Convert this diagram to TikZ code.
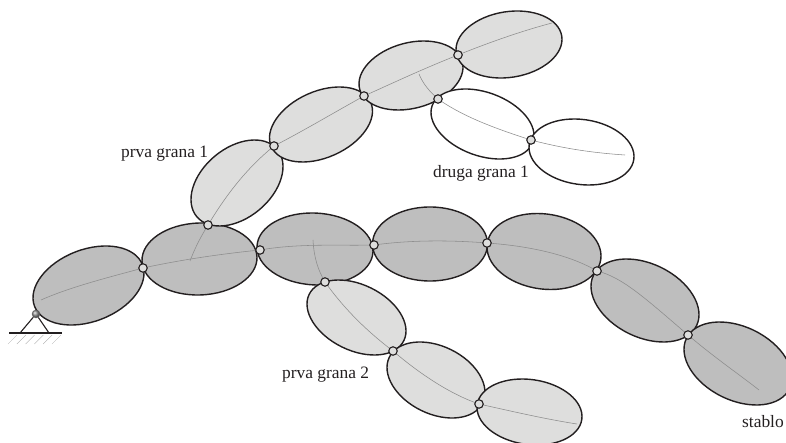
\documentclass[tikz,border=0pt]{standalone}
\usepackage{fontspec}
\setmainfont{Liberation Serif}
\definecolor{trunk}{HTML}{BEBEBE}
\definecolor{branch}{HTML}{DEDEDD}
\definecolor{axisc}{HTML}{8C8C8C}
\definecolor{inkc}{HTML}{231F20}
\newcommand\lnk[6]{%
  \pgfmathsetmacro\dd{(#3*#3-#4*#4)/cos(2*#5)}%
  \pgfmathsetmacro\ss{#3*#3+#4*#4}%
  \pgfmathsetmacro\aa{sqrt((\ss+\dd)/2)}%
  \pgfmathsetmacro\bb{sqrt((\ss-\dd)/2)}%
  \draw[linkline,fill=#6] (#1,#2) ellipse [x radius=\aa pt,y radius=\bb pt,rotate=#5];}
\tikzset{
  linkline/.style={draw=inkc,line width=1.4pt},
  axisline/.style={draw=axisc,line width=0.55pt},
  joint/.style={circle,draw=inkc,line width=1.1pt,fill=branch,minimum size=8.5pt,inner sep=0pt},
  lab/.style={text=inkc,font=\fontsize{17.4}{20}\selectfont,inner sep=0pt},
  hatchline/.style={draw=gray!70,line width=0.35pt}
}
\begin{document}
\begin{tikzpicture}[x=1pt,y=-1pt]
\useasboundingbox (0,0) rectangle (786,443);
\clip (0,0) rectangle (786,443);
% trunk
\lnk{88.5}{285.5}{55.5}{39.5}{21}{trunk}
\lnk{199.5}{259}{57.5}{36}{2}{trunk}
\lnk{315}{249}{58}{36}{-3}{trunk}
\lnk{430}{244}{57.5}{37}{0}{trunk}
\lnk{544}{251.5}{57}{38}{-8}{trunk}
\lnk{645}{300.5}{54}{41.5}{-26}{trunk}
\lnk{738}{363.5}{54}{41.5}{-26}{trunk}
% first branch 1
\lnk{237}{183}{46}{43}{40}{branch}
\lnk{321}{124.5}{51.5}{37.5}{24}{branch}
\lnk{411}{75.5}{52}{34.5}{15}{branch}
\lnk{509}{44.5}{53}{33.5}{9}{branch}
% second branch 1
\lnk{482.5}{124}{51.5}{35}{-20}{white}
\lnk{581.5}{152}{52.5}{33}{-8}{white}
% first branch 2
\lnk{356.5}{317.5}{49.5}{37.5}{-26}{branch}
\lnk{436}{380}{49}{38}{-26}{branch}
\lnk{529.5}{412}{52.5}{33}{-8}{branch}
% free ends of the axes
\coordinate (a0) at (41,300);
\coordinate (b0) at (190,261);
\coordinate (a1) at (759,390);
\coordinate (c0) at (313,240);
\coordinate (c1) at (577,424);
\coordinate (d0) at (419,74);
\coordinate (d1) at (625,155);
\coordinate (e1) at (552,23);
% joint positions
\coordinate (j1) at (143,268);
\coordinate (j2) at (260,250);
\coordinate (j3) at (374,245);
\coordinate (j4) at (487,243);
\coordinate (j5) at (597,271);
\coordinate (j6) at (688,335);
\coordinate (k1) at (208,225);
\coordinate (k2) at (274,146);
\coordinate (k3) at (364,96);
\coordinate (k4) at (458,55);
\coordinate (m1) at (438,99);
\coordinate (m2) at (531,140);
\coordinate (n1) at (325,282);
\coordinate (n2) at (393,351);
\coordinate (n3) at (479,404);
% axes
\draw[axisline] (a0) .. controls (70,287) and (110,277) .. (j1)
  .. controls (180,260) and (220,254) .. (j2)
  .. controls (300,243) and (340,246) .. (j3)
  .. controls (410,240) and (450,240) .. (j4)
  .. controls (530,246) and (570,255) .. (j5)
  .. controls (622,277) and (645,298) .. (j6)
  .. controls (715,358) and (740,375) .. (a1);
\draw[axisline] (b0) .. controls (195,248) and (200,238) .. (k1)
  .. controls (222,202) and (242,172) .. (k2)
  .. controls (305,130) and (335,112) .. (k3)
  .. controls (395,82) and (425,68) .. (k4)
  .. controls (490,42) and (525,30) .. (e1);
\draw[axisline] (d0) .. controls (423,84) and (430,92) .. (m1)
  .. controls (465,118) and (500,130) .. (m2)
  .. controls (565,149) and (595,153) .. (d1);
\draw[axisline] (c0) .. controls (314,258) and (318,270) .. (n1)
  .. controls (345,310) and (368,332) .. (n2)
  .. controls (420,374) and (450,394) .. (n3)
  .. controls (515,412) and (545,419) .. (c1);
\foreach \n in {j1,j2,j3,j4,j5,j6,k1,k2,k3,k4,m1,m2,n1,n2,n3}
  \node[joint] (node\n) at (\n) {};
% support
\coordinate (g1) at (9,333);
\coordinate (g2) at (62,333);
\coordinate (f1) at (20,333);
\coordinate (f2) at (49,333);
\node[circle,draw=inkc!70,line width=0.4pt,ball color=gray!90,minimum size=8pt,inner sep=0pt] (s) at (36,314) {};
\draw[inkc,line width=1.1pt] (s) -- (f1) (s) -- (f2);
\draw[inkc,line width=1.1pt] (g1) -- (g2);
\foreach \i in {0,...,5}
  \draw[hatchline] ({17+8.8*\i},335) -- ++(-9,9);
% labels
\node[lab,anchor=base west] (t1) at (121,158) {prva grana 1};
\node[lab,anchor=base west] (t2) at (433,178) {druga grana 1};
\node[lab,anchor=base west] (t3) at (282,378) {prva grana 2};
\node[lab,anchor=base west] (t4) at (742,427) {stablo};
\end{tikzpicture}
\end{document}
